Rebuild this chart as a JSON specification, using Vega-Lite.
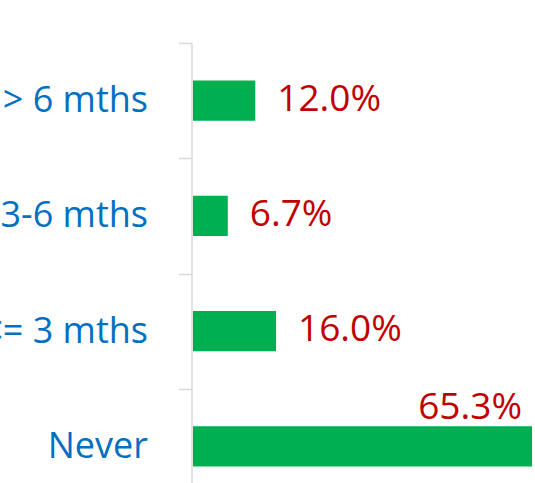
{
  "$schema": "https://vega.github.io/schema/vega-lite/v6.json",
  "autosize": "none",
  "padding": {"left": 193, "top": 43, "right": 4, "bottom": 0},
  "width": 339,
  "height": 461,
  "background": "white",
  "config": {"view": {"stroke": null}},
  "data": {
    "values": [
      {"category": "> 6 mths", "pct": 12.0, "label": "12.0%"},
      {"category": "3-6 mths", "pct": 6.7, "label": "6.7%"},
      {"category": "<= 3 mths", "pct": 16.0, "label": "16.0%"},
      {"category": "Never", "pct": 65.3, "label": "65.3%"}
    ]
  },
  "encoding": {
    "y": {
      "field": "category",
      "type": "nominal",
      "sort": null,
      "scale": {"paddingInner": 0, "paddingOuter": 0},
      "axis": {
        "title": null,
        "offset": 1.5,
        "domainColor": "#D9D9D9",
        "domainWidth": 1.5,
        "tickColor": "#D9D9D9",
        "tickWidth": 1.5,
        "tickSize": 13,
        "tickBand": "extent",
        "labelPadding": 31,
        "labelFont": "Open Sans",
        "labelFontSize": 36,
        "labelColor": "#0070C0",
        "labelLimit": 0,
        "labelBaseline": "middle",
        "grid": false
      }
    },
    "x": {
      "field": "pct",
      "type": "quantitative",
      "scale": {"domain": [0, 65.3], "nice": false, "zero": true},
      "axis": null
    }
  },
  "layer": [
    {"mark": {"type": "bar", "color": "#00B050", "height": {"band": 0.35}}},
    {
      "transform": [{"filter": "datum.category !== 'Never'"}],
      "mark": {"type": "text", "align": "left", "baseline": "alphabetic", "dx": 22, "dy": 10, "font": "Open Sans", "fontSize": 37, "color": "#C00000"},
      "encoding": {"text": {"field": "label", "type": "nominal"}}
    },
    {
      "transform": [{"filter": "datum.category === 'Never'"}],
      "mark": {"type": "text", "align": "right", "baseline": "alphabetic", "dx": -10, "dy": -27.5, "font": "Open Sans", "fontSize": 37, "color": "#C00000"},
      "encoding": {"text": {"field": "label", "type": "nominal"}}
    }
  ]
}
